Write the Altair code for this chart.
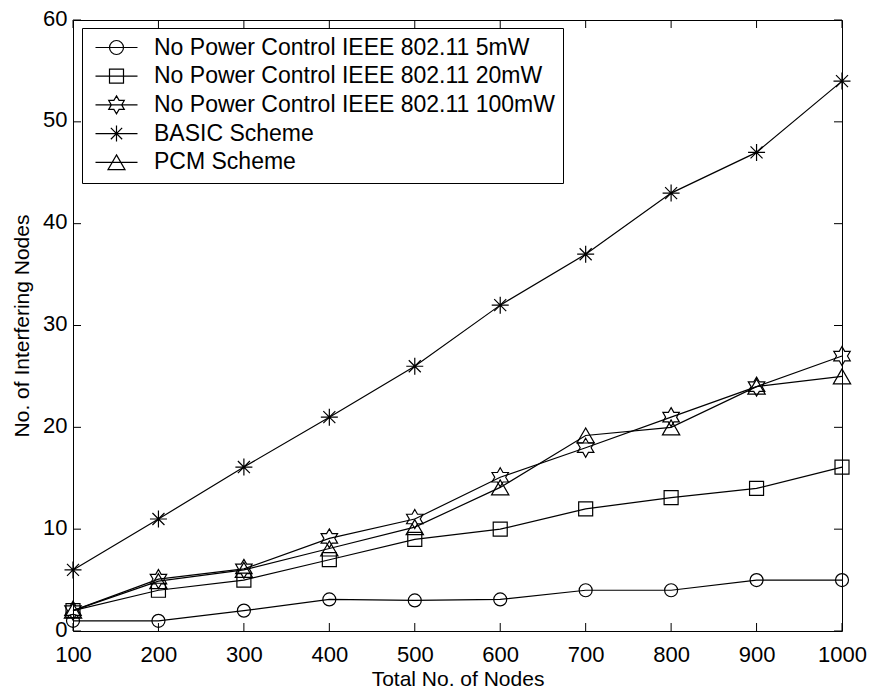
import altair as alt
import pandas as pd

# ---------------- data ----------------
nodes = [100, 200, 300, 400, 500, 600, 700, 800, 900, 1000]
no_pc_5mw = [1, 1, 2, 3.1, 3, 3.1, 4, 4, 5, 5]
no_pc_20mw = [2, 4, 5, 7, 9, 10, 12, 13.1, 14, 16.1]
no_pc_100mw = [2, 5.1, 6.1, 9.1, 11, 15.1, 18, 21, 24, 27]
basic_scheme = [6, 11, 16.1, 21, 26, 32, 37, 43, 47, 54]
pcm_scheme = [2, 4.9, 6, 8.1, 10.2, 14.1, 19.2, 20, 24, 25]

series_names = [
    "No Power Control IEEE 802.11 5mW",
    "No Power Control IEEE 802.11 20mW",
    "No Power Control IEEE 802.11 100mW",
    "BASIC Scheme",
    "PCM Scheme",
]
series_values = [no_pc_5mw, no_pc_20mw, no_pc_100mw, basic_scheme, pcm_scheme]

x_ticks = [100, 200, 300, 400, 500, 600, 700, 800, 900, 1000]
y_ticks = [0, 10, 20, 30, 40, 50, 60]

rows = []
for name, vals in zip(series_names, series_values):
    for n, v in zip(nodes, vals):
        rows.append({"nodes": n, "value": v, "series": name})
df = pd.DataFrame(rows)

# ---------------- styling ----------------
FONT = "Liberation Sans, Arial, Helvetica, sans-serif"
W, H = 769, 611


def pts(points, k=1.0):
    return "L".join(f"{x * k:.3f},{y * k:.3f}" for x, y in points)


hexagram_pts = [(0, -1), (0.289, -0.5), (0.866, -0.5), (0.577, 0), (0.866, 0.5),
                (0.289, 0.5), (0, 1), (-0.289, 0.5), (-0.866, 0.5), (-0.577, 0),
                (-0.866, -0.5), (-0.289, -0.5)]


def hexagram(k):
    return "M" + pts(hexagram_pts, k) + "Z"


def asterisk(k):
    d = 0.707 * k
    return (f"M{-k},0L{k},0M0,{-k}L0,{k}"
            f"M{-d:.3f},{-d:.3f}L{d:.3f},{d:.3f}M{-d:.3f},{d:.3f}L{d:.3f},{-d:.3f}")


marker_shapes = ["circle", "square", hexagram(1.0), asterisk(1.0), "triangle-up"]
marker_sizes = [169, 196, 361, 289, 300]

L = 2.1
hline = f"M{-L},0L{L},0"
r = 0.7
legend_shapes = [
    hline + f"M{-r},0A{r},{r} 0 1,0 {r},0A{r},{r} 0 1,0 {-r},0",
    hline + "M-0.7,-0.7L0.7,-0.7L0.7,0.7L-0.7,0.7Z",
    hline + hexagram(0.9),
    hline + asterisk(0.8),
    hline + "M0,-0.74L0.85,0.74L-0.85,0.74Z",
]

x_enc = alt.X(
    "nodes:Q",
    scale=alt.Scale(domain=[100, 1000], nice=False, zero=False),
    axis=alt.Axis(values=x_ticks, title="Total No. of Nodes", labelPadding=13,
                  titlePadding=3, format="d", labelFlush=False),
)
y_enc = alt.Y(
    "value:Q",
    scale=alt.Scale(domain=[0, 60], nice=False),
    axis=alt.Axis(values=y_ticks, title="No. of Interfering Nodes", labelPadding=6,
                  titlePadding=10, format="d", labelFlush=False, labelOffset=-2),
)

base = alt.Chart(df)

lines = base.mark_line(color="black", strokeWidth=1.2).encode(
    x=x_enc, y=y_enc, detail="series:N"
)

points = base.mark_point(filled=False, color="black", strokeWidth=1.2, opacity=1).encode(
    x=x_enc,
    y=y_enc,
    shape=alt.Shape("series:N",
                    scale=alt.Scale(domain=series_names, range=marker_shapes),
                    legend=None),
    size=alt.Size("series:N",
                  scale=alt.Scale(type="ordinal", domain=series_names, range=marker_sizes),
                  legend=None),
)

legend_layer = base.transform_filter("false").mark_point(
    filled=False, color="black", strokeWidth=1.2
).encode(
    x=x_enc,
    y=y_enc,
    shape=alt.Shape(
        "series:N",
        scale=alt.Scale(domain=series_names, range=legend_shapes),
        legend=alt.Legend(
            title=None, orient="none", legendX=9, legendY=8,
            padding=8, rowPadding=4.7, symbolOffset=15, labelOffset=26,
            symbolSize=400, strokeColor="black", fillColor="white",
            labelFontSize=23, labelFont=FONT, labelColor="black", labelLimit=800,
            labelExpr="datum.label + ' '",
            symbolStrokeWidth=1.2, symbolStrokeColor="black", symbolOpacity=1,
        ),
    ),
)

# inward tick marks on all four sides (MATLAB style)
tick_y = 60 * 8 / H
tick_x = 900 * 8 / W
xt = pd.DataFrame({"nodes": x_ticks})
yt = pd.DataFrame({"value": y_ticks})

bottom_ticks = alt.Chart(xt).mark_rule(color="black", strokeWidth=1).encode(
    x=x_enc, y=alt.datum(0), y2=alt.datum(tick_y))
top_ticks = alt.Chart(xt).mark_rule(color="black", strokeWidth=1).encode(
    x=x_enc, y=alt.datum(60), y2=alt.datum(60 - tick_y))
left_ticks = alt.Chart(yt).mark_rule(color="black", strokeWidth=1).encode(
    y=y_enc, x=alt.datum(100), x2=alt.datum(100 + tick_x))
right_ticks = alt.Chart(yt).mark_rule(color="black", strokeWidth=1).encode(
    y=y_enc, x=alt.datum(1000), x2=alt.datum(1000 - tick_x))

chart = (
    alt.layer(bottom_ticks, top_ticks, left_ticks, right_ticks, lines, points, legend_layer)
    .resolve_scale(shape="independent", size="independent")
    .properties(
        width=W, height=H,
        autosize=alt.AutoSizeParams(type="none"),
        padding={"left": 73, "top": 20, "right": 29, "bottom": 60},
        background="white",
    )
    .configure_view(stroke="black", strokeWidth=1)
    .configure_axis(
        domain=False, ticks=False, grid=False,
        labelFont=FONT, labelFontSize=22, labelColor="black",
        titleFont=FONT, titleFontSize=21, titleColor="black", titleFontWeight="normal",
    )
)

chart.save("out.html", embed_options={"renderer": "svg", "actions": False})
